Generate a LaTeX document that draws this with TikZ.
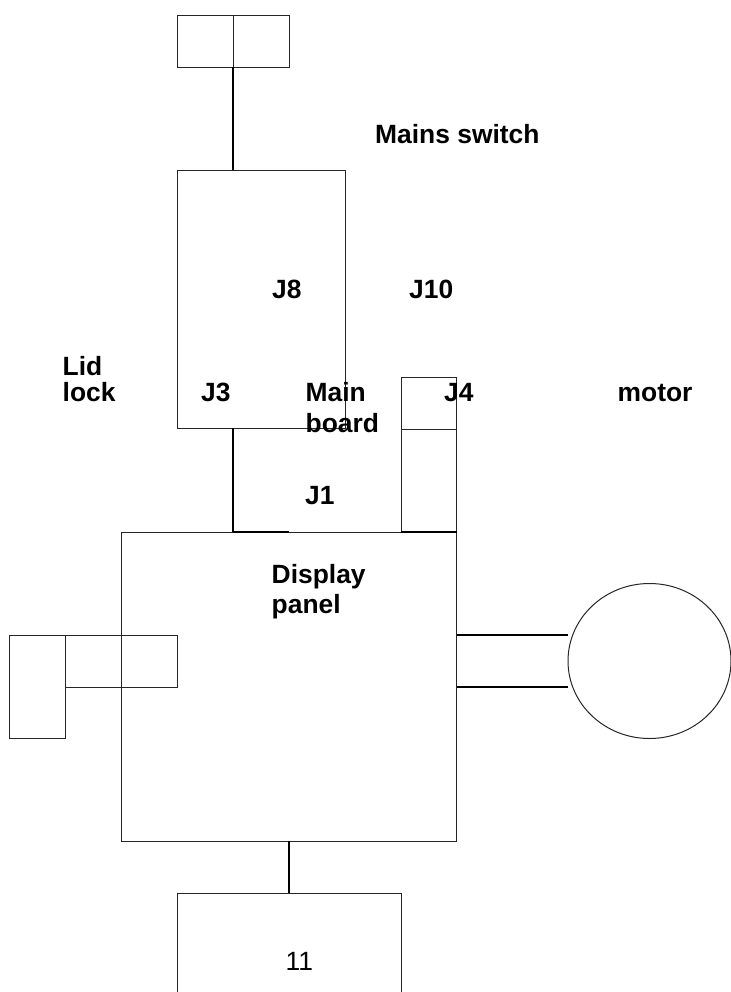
\documentclass[tikz,border=0pt]{standalone}
\usepackage{fontspec}
\setmainfont{Liberation Sans}
\tikzset{
  box/.style={draw=black!85,line width=1pt,fill=none},
  wire/.style={draw=black,line width=1.5pt},
  lbl/.style={inner sep=0pt,anchor=base west,font=\fontsize{26.4}{27}\selectfont\bfseries,align=left},
}
\begin{document}
\begin{tikzpicture}[x=1pt,y=-1pt,line join=miter]
\useasboundingbox (0,0) rectangle (730,992);
\path[box] (177,16) rectangle (233,67.5);
\path[box] (233,16) rectangle (289,67.5);
\coordinate (plugb) at (233,67.5);
\coordinate (mt) at (233,170.5);
\path[box] (177,170.5) rectangle (345,428);
\coordinate (mb) at (233,428);
\coordinate (dt) at (233,532);
\draw[wire] (plugb) -- (mt);
\draw[wire] (mb) -- (dt);
\path[box] (121,532) rectangle (456.5,841);
\path[box] (401,377) rectangle (456.5,429);
\path[box] (401,429) rectangle (456.5,532);
\path[box] (9,635) rectangle (65,738);
\path[box] (65,635) rectangle (121,687);
\path[box] (121,635) rectangle (177,687);
\draw[wire] (233,532) -- (289,532);
\draw[wire] (401,532) -- (457,532);
\draw[wire] (457,635) -- (568,635);
\draw[wire] (457,687) -- (568,687);
\draw[box] (649.5,661) ellipse (81.5 and 77.5);
\draw[wire] (289,841) -- (289,893);
\draw[box] (177,992) -- (177,893) -- (401,893) -- (401,992);
\node[lbl] at (375,144) {Mains switch};
\node[lbl] at (272,298) {J8};
\node[lbl] at (409,298) {J10};
\node[lbl] at (62.5,375.2) {Lid};
\node[lbl] at (62.5,401.5) {lock};
\node[lbl] at (201,401.5) {J3};
\node[lbl] at (305.5,401.5) {Main};
\node[lbl] at (305.5,432) {board};
\node[lbl] at (305,504) {J1};
\node[lbl] at (444,401.5) {J4};
\node[lbl] at (617.5,401.5) {motor};
\node[lbl] at (271.5,583) {Display};
\node[lbl] at (271.5,613) {panel};
\node[inner sep=0pt,anchor=base west,font=\fontsize{26.4}{27}\selectfont] at (285.5,970.5) {11};
\end{tikzpicture}
\end{document}
